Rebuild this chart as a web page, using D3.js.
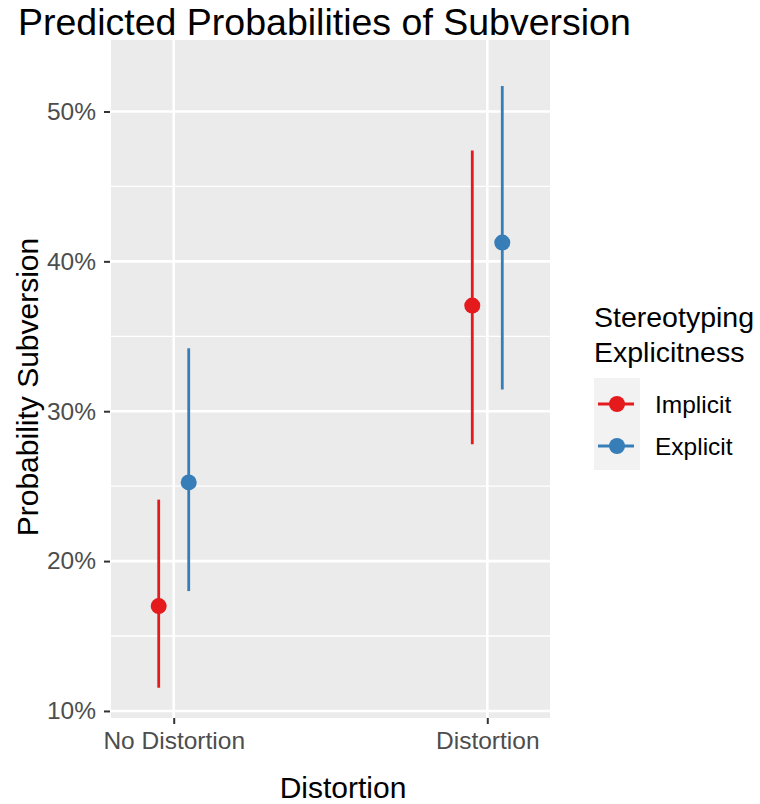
<!DOCTYPE html>
<html>
<head>
  <meta charset="utf-8" />
  <title>Predicted Probabilities of Subversion</title>
  <style>
    body { margin: 0; background: #fff; }
    text { font-family: "Liberation Sans", Arial, sans-serif; }
  </style>
  <script src="https://cdnjs.cloudflare.com/ajax/libs/d3/7.8.5/d3.min.js"></script>
</head>
<body>
  <div id="chart"></div>
  <script>
    // data (percent)
    var conditions = ['No Distortion', 'Distortion'];
    var groups = ['Implicit', 'Explicit'];
    var estimate = { 'Implicit': [17.0, 37.05], 'Explicit': [25.25, 41.25] };
    var lower = { 'Implicit': [11.55, 27.8], 'Explicit': [18.0, 31.45] };
    var upper = { 'Implicit': [24.1, 47.4], 'Explicit': [34.2, 51.7] };
    var yTicks = [10, 20, 30, 40, 50];
    var yMinor = [15, 25, 35, 45];
    var colors = ['#E41A1C', '#377EB8'];

    var w = 760, h = 804;
    var panel = { left: 111, right: 550, top: 40, bottom: 718 };

    var rows = [];
    groups.forEach(function (g) {
      conditions.forEach(function (c, i) {
        rows.push({ cond: c, group: g, est: estimate[g][i], lo: lower[g][i], hi: upper[g][i] });
      });
    });

    var x = d3.scalePoint().domain(conditions).range([panel.left, panel.right]).padding(0.2);
    var dodge = d3.scalePoint().domain(groups).range([-15, 15]);
    var y = d3.scaleLinear().domain([9.53, 54.77]).range([panel.bottom, panel.top]);
    var color = d3.scaleOrdinal().domain(groups).range(colors);

    var svg = d3.select('#chart').append('svg').attr('width', w).attr('height', h);

    svg.append('rect')
      .attr('x', panel.left).attr('y', panel.top)
      .attr('width', panel.right - panel.left).attr('height', panel.bottom - panel.top)
      .attr('fill', '#EBEBEB');

    // minor grid
    svg.selectAll('.minor').data(yMinor).enter().append('line')
      .attr('x1', panel.left).attr('x2', panel.right)
      .attr('y1', d => y(d)).attr('y2', d => y(d))
      .attr('stroke', '#fff').attr('stroke-width', 1.3);

    // major grid
    svg.selectAll('.majorY').data(yTicks).enter().append('line')
      .attr('x1', panel.left).attr('x2', panel.right)
      .attr('y1', d => y(d)).attr('y2', d => y(d))
      .attr('stroke', '#fff').attr('stroke-width', 2.6);
    svg.selectAll('.majorX').data(conditions).enter().append('line')
      .attr('x1', d => x(d)).attr('x2', d => x(d))
      .attr('y1', panel.top).attr('y2', panel.bottom)
      .attr('stroke', '#fff').attr('stroke-width', 2.6);

    // axes
    var yAxis = svg.append('g').attr('transform', 'translate(' + (panel.left - 1) + ',0)')
      .call(d3.axisLeft(y).tickValues(yTicks).tickFormat(d => d + '%').tickSize(6).tickPadding(8));
    var xAxis = svg.append('g').attr('transform', 'translate(0,' + panel.bottom + ')')
      .call(d3.axisBottom(x).tickSize(6).tickPadding(8));
    [yAxis, xAxis].forEach(function (a) {
      a.select('.domain').remove();
      a.selectAll('.tick line').attr('stroke', '#333').attr('stroke-width', 2);
      a.selectAll('.tick text').attr('fill', '#4D4D4D')
        .style('font-family', '"Liberation Sans", Arial, sans-serif').style('font-size', '24.5px');
    });

    // error bars
    svg.selectAll('.bar').data(rows).enter().append('line')
      .attr('x1', d => x(d.cond) + dodge(d.group)).attr('x2', d => x(d.cond) + dodge(d.group))
      .attr('y1', d => y(d.lo)).attr('y2', d => y(d.hi))
      .attr('stroke', d => color(d.group)).attr('stroke-width', 2.8);

    svg.selectAll('.pt').data(rows).enter().append('circle')
      .attr('cx', d => x(d.cond) + dodge(d.group)).attr('cy', d => y(d.est))
      .attr('r', 8).attr('fill', d => color(d.group));

    // titles
    svg.append('text').attr('x', 18).attr('y', 35)
      .style('font-size', '37.5px').attr('fill', '#000')
      .text('Predicted Probabilities of Subversion');
    svg.append('text').attr('x', 343).attr('y', 798)
      .attr('text-anchor', 'middle').style('font-size', '30px').attr('fill', '#000')
      .text('Distortion');
    svg.append('text').attr('transform', 'translate(38,' + 387 + ') rotate(-90)')
      .attr('text-anchor', 'middle').style('font-size', '30px').attr('fill', '#000')
      .text('Probability Subversion');

    // legend
    var lg = svg.append('g');
    lg.append('text').attr('x', 594).attr('y', 327).style('font-size', '28.5px').text('Stereotyping');
    lg.append('text').attr('x', 594).attr('y', 362).style('font-size', '28.5px').text('Explicitness');
    lg.append('rect').attr('x', 594).attr('y', 378).attr('width', 46).attr('height', 92).attr('fill', '#F2F2F2');
    var items = lg.selectAll('.item').data(groups).enter().append('g')
      .attr('transform', (d, i) => 'translate(617,' + (404 + i * 42) + ')');
    items.append('line').attr('x1', -19).attr('x2', 17)
      .attr('stroke', d => color(d)).attr('stroke-width', 2.8);
    items.append('circle').attr('r', 8).attr('fill', d => color(d));
    items.append('text').attr('x', 38).attr('y', 9).style('font-size', '24.5px').attr('fill', '#000')
      .text(d => d);
  </script>
</body>
</html>
